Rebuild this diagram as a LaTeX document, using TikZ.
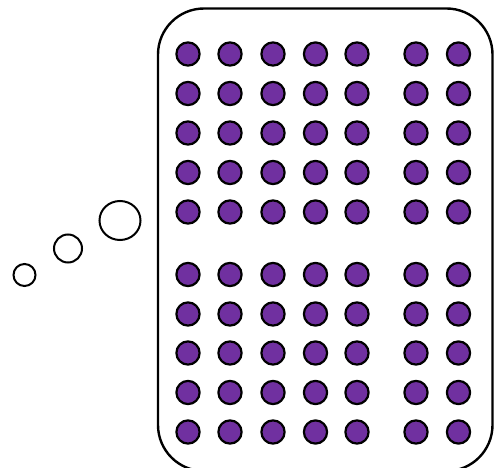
\documentclass[tikz,border=0pt]{standalone}
\usetikzlibrary{shapes.geometric}
\definecolor{dotpurple}{HTML}{7030A0}
\begin{document}
\begin{tikzpicture}[x=1pt,y=-1pt,
  dot/.style={circle,draw=black,line width=2.2pt,fill=dotpurple,minimum size=23.2pt,inner sep=0pt},
  bubble/.style={draw=black,line width=2pt,fill=white,inner sep=0pt},
  panel/.style={draw=black,line width=2.4pt,rounded corners=46pt}]
\useasboundingbox (0,0) rectangle (496,468);
\begin{scope}
\clip (0,0) rectangle (496,468);
\draw[panel] (158,8.5) rectangle (492.5,471);
\end{scope}
\foreach \c/\x in {1/188,2/230,3/273,4/315.5,5/357,6/416,7/458.5}{
  \foreach \r/\y in {1/54,2/93.5,3/133,4/172.5,5/212,6/274.5,7/314,8/353,9/392.5,10/432}{
    \node[dot] (d\r-\c) at (\x,\y) {};
  }
}
\node[bubble,circle,minimum size=22pt] (b1) at (24.5,275) {};
\node[bubble,circle,minimum size=28pt] (b2) at (68,248.5) {};
\node[bubble,ellipse,minimum width=41pt,minimum height=39pt] (b3) at (120,220.5) {};
\end{tikzpicture}
\end{document}
